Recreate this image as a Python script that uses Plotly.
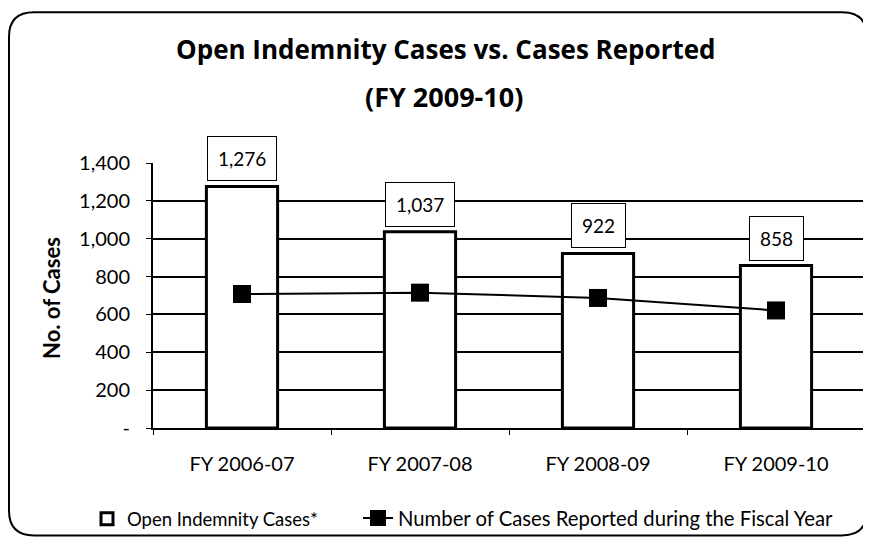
import plotly.graph_objects as go

categories = ["FY 2006-07", "FY 2007-08", "FY 2008-09", "FY 2009-10"]
open_cases = [1276, 1037, 922, 858]
reported = [708, 715, 687, 621]
y_ticks = [0, 200, 400, 600, 800, 1000, 1200, 1400]
y_tick_text = ["-", "200", "400", "600", "800", "1,000", "1,200", "1,400"]
grid_vals = [200, 400, 600, 800, 1000, 1200]

FONT = "Lato, 'Open Sans', sans-serif"
TFONT = "'Open Sans', Lato, sans-serif"

# plot area (reference pixels): x 153..865, y 163..432
PX0, PX1, PY0, PY1 = 153, 865, 163, 432
def xp(x):
    return (x - PX0) / (PX1 - PX0)
def yp(y):
    return (PY1 - y) / (PY1 - PY0)

fig = go.Figure()
fig.add_trace(go.Bar(
    x=categories, y=open_cases, name="Open Indemnity Cases*",
    marker=dict(color="white", line=dict(color="black", width=3)),
    width=0.4, legend="legend",
))
fig.add_trace(go.Scatter(
    x=categories, y=reported, name="Number of Cases Reported during the Fiscal Year",
    mode="lines+markers",
    line=dict(color="black", width=2),
    marker=dict(symbol="square", size=18, color="black"),
    legend="legend2",
))
fig.add_trace(go.Scatter(x=categories, y=[None]*len(categories), yaxis="y2",
                         showlegend=False, hoverinfo="skip"))

for c, v in zip(categories, open_cases):
    fig.add_annotation(
        x=c, y=v, text=f"{v:,}", showarrow=False, yanchor="bottom", yshift=5,
        bordercolor="black", borderwidth=1, borderpad=10, bgcolor="white",
        font=dict(family=FONT, size=19, color="black"),
    )

fig.add_annotation(text="<b>Open Indemnity Cases vs. Cases Reported</b>",
                   xref="paper", yref="paper", x=xp(446), y=yp(47), yanchor="middle",
                   showarrow=False, font=dict(family=TFONT, size=26, color="black"))
fig.add_annotation(text="<b>(FY 2009-10)</b>",
                   xref="paper", yref="paper", x=xp(444), y=yp(95), yanchor="middle",
                   showarrow=False, font=dict(family=TFONT, size=27, color="black"))
fig.add_annotation(text="<b>No. of Cases</b>", textangle=-90,
                   xref="paper", yref="paper", x=xp(52), y=yp(300),
                   xanchor="center", yanchor="middle",
                   showarrow=False, font=dict(family=FONT, size=22, color="black"))

# rounded outer border
x0, x1 = xp(9), xp(867)
y0, y1 = yp(541), yp(10)
rx, ry = 25 / 712, 25 / 269
path = (f"M {x0+rx},{y1} L {x1-rx},{y1} Q {x1},{y1} {x1},{y1-ry} "
        f"L {x1},{y0+ry} Q {x1},{y0} {x1-rx},{y0} L {x0+rx},{y0} "
        f"Q {x0},{y0} {x0},{y0+ry} L {x0},{y1-ry} Q {x0},{y1} {x0+rx},{y1} Z")
fig.add_shape(type="path", path=path, xref="paper", yref="paper",
              line=dict(color="black", width=2), layer="below")

# page body adds an 8px offset, so the figure is 8px smaller and margins shifted
W, H = 863, 537
fig.update_layout(
    width=W, height=H,
    margin=dict(l=PX0 - 8, r=W - (PX1 - 8), t=PY0 - 8, b=H - (PY1 - 8)),
    paper_bgcolor="white", plot_bgcolor="white",
    font=dict(family=FONT, size=14, color="black"),
    showlegend=True,
    legend=dict(orientation="h", x=xp(87), xanchor="left", y=yp(544),
                yanchor="bottom", font=dict(family=FONT, size=18.5),
                bgcolor="rgba(0,0,0,0)", itemwidth=30),
    legend2=dict(orientation="h", x=xp(358), xanchor="left", y=yp(544),
                 yanchor="bottom", font=dict(family=FONT, size=20.3),
                 bgcolor="rgba(0,0,0,0)", itemwidth=30),
    xaxis=dict(showline=True, linecolor="black", linewidth=2,
               ticks="outside", tickson="boundaries", ticklen=5, tickcolor="black",
               tickfont=dict(family=FONT, size=20), showgrid=False,
               ticklabelstandoff=17),
    yaxis=dict(range=[0, 1400], tickvals=y_ticks, ticktext=y_tick_text,
               showline=True, linecolor="black", linewidth=2,
               ticks="outside", ticklen=5, tickcolor="black",
               tickfont=dict(family=FONT, size=20), showgrid=False,
               zeroline=False, ticklabelstandoff=12),
    yaxis2=dict(range=[0, 1400], overlaying="y", tickvals=grid_vals,
                showticklabels=False, showgrid=True, gridcolor="black",
                gridwidth=2, zeroline=False, showline=False),
    bargap=0.6,
)

fig.write_html("out.html")
